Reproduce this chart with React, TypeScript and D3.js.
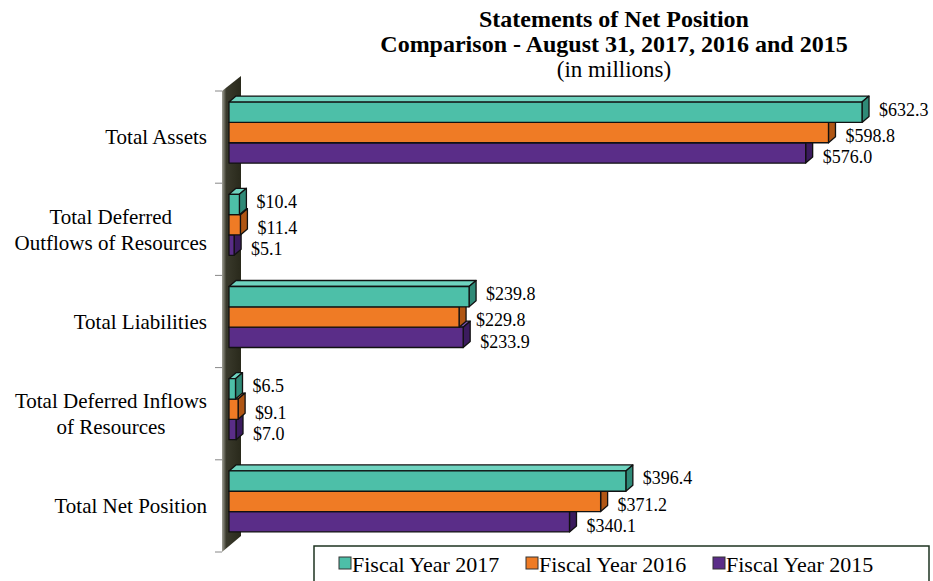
//@ts-nocheck
import * as d3 from "d3";
import React, { useEffect, useRef } from "react";

const categories = [
  "Total Assets",
  "Total Deferred\nOutflows of Resources",
  "Total Liabilities",
  "Total Deferred Inflows\nof Resources",
  "Total Net Position",
];
const seriesNames = ["Fiscal Year 2017", "Fiscal Year 2016", "Fiscal Year 2015"];
const fy2017 = [632.3, 10.4, 239.8, 6.5, 396.4];
const fy2016 = [598.8, 11.4, 229.8, 9.1, 371.2];
const fy2015 = [576.0, 5.1, 233.9, 7.0, 340.1];
const titleLines = [
  "Statements of Net Position",
  "Comparison - August 31, 2017, 2016 and 2015",
  "(in millions)",
];

const front = ["#4dbfa8", "#ef7b25", "#5a2d88"];
const side = ["#2f8a77", "#b05614", "#3b1b5e"];
const topc = ["#6fd3bf", "#f49a56", "#7a4fa8"];

const width = 933;
const height = 581;
const DX = 7;
const DY = -6;
const FONT = "'Liberation Serif', 'Times New Roman', serif";

const chart = (svgEl) => {
  const svg = d3.select(svgEl);
  svg.selectAll("*").remove();

  const values = [fy2017, fy2016, fy2015];

  const x = d3.scaleLinear().domain([0, 700]).range([229, 929.8]);
  const y = d3.scaleBand().domain(categories).range([91, 552]);
  const groupH = 61;
  const inner = d3.scaleBand().domain(seriesNames).range([0, groupH]);

  const defs = svg.append("defs");
  const grad = defs
    .append("linearGradient")
    .attr("id", "wallGrad")
    .attr("x1", "0")
    .attr("x2", "1");
  grad.append("stop").attr("offset", "0").attr("stop-color", "#a0a096");
  grad.append("stop").attr("offset", "0.22").attr("stop-color", "#3a3a2c");
  grad.append("stop").attr("offset", "1").attr("stop-color", "#29291b");

  // title
  const title = svg
    .append("g")
    .attr("font-family", FONT)
    .attr("text-anchor", "middle");
  titleLines.forEach((t, i) => {
    title
      .append("text")
      .attr("x", 614)
      .attr("y", 27 + i * 25)
      .attr("font-size", i < 2 ? 24 : 23)
      .attr("font-weight", i < 2 ? "bold" : "normal")
      .text(t);
  });

  // wall
  svg
    .append("path")
    .attr("d", "M222,91 L241,76 L241,536 L222,552 Z")
    .attr("fill", "url(#wallGrad)");

  // ticks
  const tickYs = categories.map((c) => y(c)).concat([y.range()[1]]);
  svg
    .append("g")
    .attr("stroke", "#888")
    .attr("stroke-width", 1)
    .selectAll("line")
    .data(tickYs)
    .join("line")
    .attr("x1", 215)
    .attr("x2", 222)
    .attr("y1", (d) => d)
    .attr("y2", (d) => d);

  // bars, drawn bottom series first so upper bars cover the top faces below
  const bars = svg.append("g");
  categories.forEach((cat, ci) => {
    const gTop = y(cat) + (y.bandwidth() - groupH) / 2 - 4.5;
    for (let si = seriesNames.length - 1; si >= 0; si--) {
      const v = values[si][ci];
      const x0 = x(0);
      const x1 = x(v);
      const y0 = gTop + inner(seriesNames[si]);
      const h = inner.bandwidth();
      const g = bars
        .append("g")
        .attr("stroke", "#111")
        .attr("stroke-width", 1.3)
        .attr("stroke-linejoin", "round");
      g.append("path")
        .attr("d", `M${x0},${y0} L${x0 + DX},${y0 + DY} L${x1 + DX},${y0 + DY} L${x1},${y0} Z`)
        .attr("fill", topc[si]);
      g.append("path")
        .attr("d", `M${x1},${y0} L${x1 + DX},${y0 + DY} L${x1 + DX},${y0 + h + DY} L${x1},${y0 + h} Z`)
        .attr("fill", side[si]);
      g.append("rect")
        .attr("x", x0)
        .attr("y", y0)
        .attr("width", x1 - x0)
        .attr("height", h)
        .attr("fill", front[si]);
    }
  });

  // value labels
  const nudge = [-3, 3, 4];
  const labels = svg.append("g").attr("font-family", FONT).attr("font-size", 18);
  categories.forEach((cat, ci) => {
    const gTop = y(cat) + (y.bandwidth() - groupH) / 2 - 4.5;
    seriesNames.forEach((s, si) => {
      const v = values[si][ci];
      labels
        .append("text")
        .attr("x", x(v) + DX + 10)
        .attr("y", gTop + inner(s) + inner.bandwidth() / 2 + nudge[si])
        .attr("dy", "0.35em")
        .text(`$${d3.format(".1f")(v)}`);
    });
  });

  // category labels
  const cl = svg.append("g").attr("font-family", FONT).attr("font-size", 21);
  categories.forEach((cat) => {
    const lines = cat.split("\n");
    const cy = y(cat) + y.bandwidth() / 2;
    const t = cl.append("text").attr("text-anchor", "middle");
    lines.forEach((ln, li) => {
      t.append("tspan")
        .attr("y", cy + (li - (lines.length - 1) / 2) * 26)
        .attr("dy", "0.35em")
        .text(ln);
    });
    let maxW = 0;
    t.selectAll("tspan").each(function () {
      maxW = Math.max(maxW, this.getComputedTextLength());
    });
    t.selectAll("tspan").attr("x", 207 - maxW / 2);
  });

  // legend
  const lg = svg.append("g").attr("font-family", FONT).attr("font-size", 22);
  lg.append("rect")
    .attr("x", 314)
    .attr("y", 546)
    .attr("width", 615)
    .attr("height", 50)
    .attr("fill", "#fff")
    .attr("stroke", "#1e3320")
    .attr("stroke-width", 1.5);
  const lx = d3.scalePoint().domain(seriesNames).range([339, 713]);
  seriesNames.forEach((s, si) => {
    lg.append("rect")
      .attr("x", lx(s))
      .attr("y", 557)
      .attr("width", 12)
      .attr("height", 12)
      .attr("fill", front[si])
      .attr("stroke", "#333")
      .attr("stroke-width", 1);
    lg.append("text")
      .attr("x", lx(s) + 13)
      .attr("y", 564)
      .attr("dy", "0.35em")
      .text(s);
  });
};

export default function App() {
  const ref = useRef(null);
  useEffect(() => {
    if (ref.current) chart(ref.current);
  }, []);
  return (
    <svg
      ref={ref}
      width={width}
      height={height}
      style={{ position: "absolute", left: 0, top: 0, background: "#fff" }}
    />
  );
}
